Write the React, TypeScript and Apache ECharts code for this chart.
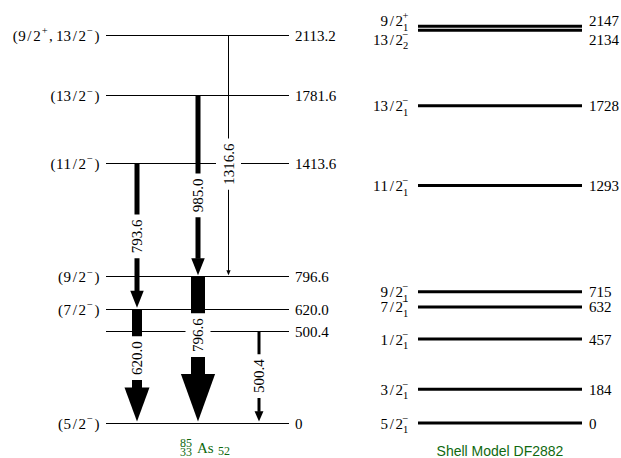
import React, { useEffect, useRef } from "react";
import * as echarts from "echarts";

// ---- Experimental level scheme (85As) ----
const expLevels = [0, 500.4, 620.0, 796.6, 1413.6, 1781.6, 2113.2];
const expLevelLabels = ["0", "500.4", "620.0", "796.6", "1413.6", "1781.6", "2113.2"];
const expSpins = ["(5/2^−)", "", "(7/2^−)", "(9/2^−)", "(11/2^−)", "(13/2^−)", "(9/2^+, 13/2^−)"];

// ---- Gamma transitions ----
const gammaLabels = ["793.6", "985.0", "1316.6", "620.0", "796.6", "500.4"];
const gammaFrom = [1413.6, 1781.6, 2113.2, 620.0, 796.6, 500.4];
const gammaTo = [620.0, 796.6, 796.6, 0, 0, 0];
const gammaIntensity = [5, 5, 1, 10, 14, 3];

// ---- Shell model DF2882 ----
const smLevels = [0, 184, 457, 632, 715, 1293, 1728, 2134, 2147];
const smLevelLabels = ["0", "184", "457", "632", "715", "1293", "1728", "2134", "2147"];
const smSpins = ["5/2", "3/2", "1/2", "7/2", "9/2", "11/2", "13/2", "13/2", "9/2"];
const smParity = ["−", "−", "−", "−", "−", "−", "−", "−", "+"];
const smIndex = ["1", "1", "1", "1", "1", "1", "1", "2", "1"];

// ---- layout ----
const SERIF = "'Liberation Serif', 'DejaVu Serif', serif";
const SANS = "'Liberation Sans', Arial, sans-serif";
const GREEN = "#0f690f";
const EXP_X0 = 106;
const EXP_X1 = 289;
const SM_X0 = 418;
const SM_X1 = 582;
const gammaX = [137, 198, 228.5, 137, 198, 259];
const gammaLabelPos = [0.5, 0.55, 0.534, 0.43, 0.4, 0.49];
const smLineShift = [0, 0, 0, 0, 0, 0, 0, -1, -2.5];
const smLabelShift = [0, 0, 0, 0, 0, 0, 0, 8.3, -7.8];

// advance widths (em) used for typesetting spin labels in a TeX-like way
const ADV: Record<string, number> = { "(": 0.389, ")": 0.389, "/": 0.5, ",": 0.278, " ": 0.2, "+": 0.778, "−": 0.778 };
const adv = (c: string) => (ADV[c] !== undefined ? ADV[c] : 0.5);
const strW = (s: string, size: number) => Array.from(s).reduce((a, c) => a + adv(c) * size, 0);

function txt(text: string, x: number, y: number, size: number, align = "left", fill = "#000", family = SERIF) {
  return {
    type: "text",
    style: {
      text,
      x,
      y,
      fontSize: size,
      fontFamily: family,
      textAlign: align,
      textVerticalAlign: "middle",
      fill,
    },
  };
}

function glyphs(s: string, x: number, y: number, size: number, out: any[]) {
  for (const c of Array.from(s)) {
    const w = adv(c) * size;
    if (c !== " ") out.push(txt(c, x + w / 2, y, size, "center"));
    x += w;
  }
  return x;
}

function spinParts(label: string) {
  const parts: { t: string; sup: boolean }[] = [];
  const re = /\^(.)/g;
  let last = 0;
  let m: RegExpExecArray | null;
  while ((m = re.exec(label))) {
    if (m.index > last) parts.push({ t: label.slice(last, m.index), sup: false });
    parts.push({ t: m[1], sup: true });
    last = m.index + m[0].length;
  }
  if (last < label.length) parts.push({ t: label.slice(last), sup: false });
  return parts;
}

const MAIN = 15;
const SCRIPT = 10.5;
const crisp = (y: number) => Math.round(y - 0.5) + 0.5;

function renderExpLevel(params: any, api: any) {
  const i = params.dataIndex;
  const yRaw = api.coord([0, expLevels[i]])[1];
  const y = crisp(yRaw);
  const children: any[] = [
    { type: "line", shape: { x1: EXP_X0, y1: y, x2: EXP_X1, y2: y }, style: { stroke: "#000", lineWidth: 1 } },
    txt(expLevelLabels[i], EXP_X1 + 6, yRaw + 0.5, MAIN),
  ];
  if (expSpins[i]) {
    const parts = spinParts(expSpins[i]);
    const total = parts.reduce((a, p) => a + strW(p.t, p.sup ? SCRIPT : MAIN), 0);
    let x = 100 - total;
    for (const p of parts) {
      x = glyphs(p.t, x, p.sup ? yRaw - 4.5 : yRaw + 0.5, p.sup ? SCRIPT : MAIN, children);
    }
  }
  return { type: "group", children };
}

function renderSmLevel(params: any, api: any) {
  const i = params.dataIndex;
  const yRaw = api.coord([0, smLevels[i]])[1];
  const yl = yRaw + smLineShift[i];
  const yt = yRaw + smLabelShift[i];
  const children: any[] = [
    { type: "line", shape: { x1: SM_X0, y1: yl, x2: SM_X1, y2: yl }, style: { stroke: "#000", lineWidth: 3 } },
    txt(smLevelLabels[i], SM_X1 + 7, yt + 0.5, MAIN),
  ];
  const xs = 403;
  glyphs(smSpins[i], xs - strW(smSpins[i], MAIN), yt + 0.5, MAIN, children);
  children.push(txt(smParity[i], xs - 0.5, yt - 5, SCRIPT));
  children.push(txt(smIndex[i], xs, yt + 6.5, SCRIPT));
  return { type: "group", children };
}

function renderGamma(params: any, api: any) {
  const i = params.dataIndex;
  const x = gammaX[i];
  const y0 = api.coord([0, gammaFrom[i]])[1];
  const y1 = api.coord([0, gammaTo[i]])[1] - 1.5;
  const s = gammaIntensity[i];
  const hl = Math.max(5, 3.4 * s);
  const hw = 2.3 * s + 2;
  return {
    type: "group",
    children: [
      { type: "rect", shape: { x: x - s / 2, y: y0, width: s, height: y1 - hl - y0 + 0.5 }, style: { fill: "#000" } },
      {
        type: "polygon",
        shape: { points: [[x - hw / 2, y1 - hl], [x + hw / 2, y1 - hl], [x, y1]] },
        style: { fill: "#000" },
      },
    ],
  };
}

function renderGammaLabel(params: any, api: any) {
  const i = params.dataIndex;
  const y0 = api.coord([0, gammaFrom[i]])[1];
  const y1 = api.coord([0, gammaTo[i]])[1];
  const yc = y0 + (y1 - y0) * gammaLabelPos[i];
  return {
    type: "text",
    x: gammaX[i],
    y: yc,
    rotation: Math.PI / 2,
    style: {
      text: gammaLabels[i],
      x: 0,
      y: 0,
      fontSize: MAIN,
      fontFamily: SERIF,
      textAlign: "center",
      textVerticalAlign: "middle",
      fill: "#000",
      backgroundColor: "#fff",
      padding: [5, 5],
    },
  };
}

function gtext(text: string, x: number, y: number, size: number, family: string, align = "left") {
  return {
    type: "text",
    style: { text, x, y, fontSize: size, fontFamily: family, fill: GREEN, textAlign: align, textVerticalAlign: "middle" },
  };
}

export default function App() {
  const ref = useRef<HTMLDivElement>(null);
  useEffect(() => {
    const chart = echarts.init(ref.current!, null, { renderer: "svg" });
    const option: any = {
      animation: false,
      backgroundColor: "#fff",
      grid: { left: 0, right: 0, top: 35, bottom: 35 },
      xAxis: { type: "value", min: 0, max: 621, show: false },
      yAxis: { type: "value", min: 0, max: 2113.2, show: false },
      series: [
        { type: "custom", z: 1, silent: true, data: expLevels.map((e) => [0, e]), renderItem: renderExpLevel },
        { type: "custom", z: 1, silent: true, data: smLevels.map((e) => [0, e]), renderItem: renderSmLevel },
        { type: "custom", z: 2, silent: true, data: gammaFrom.map((e) => [0, e]), renderItem: renderGamma },
        { type: "custom", z: 3, silent: true, data: gammaFrom.map((e) => [0, e]), renderItem: renderGammaLabel },
      ],
      graphic: [
        gtext("85", 180, 442.5, 12, SERIF),
        gtext("33", 180, 452, 12, SERIF),
        gtext("As", 197, 447.5, 15, SERIF),
        gtext("52", 218, 451, 12, SERIF),
        gtext("Shell Model DF2882", 500, 451, 14, SANS, "center"),
      ],
    };
    chart.setOption(option);
    return () => chart.dispose();
  }, []);
  return (
    <div
      ref={ref}
      style={{ position: "absolute", left: 0, top: 0, width: 621, height: 458, background: "#fff" }}
    />
  );
}
